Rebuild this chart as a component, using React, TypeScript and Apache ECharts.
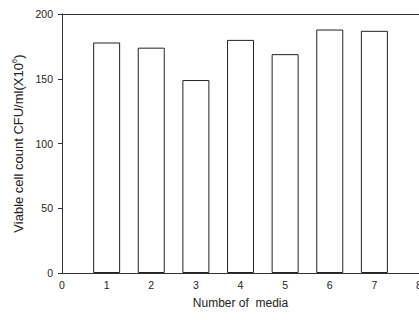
import React, { useEffect, useRef } from "react";
import * as echarts from "echarts";

const mediaNumbers = [1, 2, 3, 4, 5, 6, 7];
const viableCounts = [178, 174, 149, 180, 169, 188, 187];
const yTicks = [0, 50, 100, 150, 200];
const xTicks = [0, 1, 2, 3, 4, 5, 6, 7, 8];

export default function App() {
  const ref = useRef<HTMLDivElement>(null);
  useEffect(() => {
    if (!ref.current) return;
    const chart = echarts.init(ref.current, null, { renderer: "svg" });
    const font = "Liberation Sans, Arial, sans-serif";
    chart.setOption({
      animation: false,
      backgroundColor: "#fff",
      grid: {
        left: 62,
        right: 0,
        top: 14,
        bottom: 47,
        containLabel: false,
        outerBoundsMode: "none",
      },
      xAxis: [
        {
          type: "value",
          min: xTicks[0],
          max: xTicks[xTicks.length - 1],
          interval: 1,
          position: "bottom",
          name: "Number of  media",
          nameLocation: "middle",
          nameGap: 24,
          nameTextStyle: { fontFamily: font, fontSize: 12, color: "#222" },
          axisLine: { lineStyle: { color: "#333", width: 1 } },
          axisTick: { show: false },
          axisLabel: { fontFamily: font, fontSize: 10.5, color: "#222", margin: 6 },
          splitLine: { show: false },
        },
        {
          type: "value",
          min: xTicks[0],
          max: xTicks[xTicks.length - 1],
          position: "top",
          axisLine: { show: true, lineStyle: { color: "#333", width: 1 } },
          axisTick: { show: false },
          axisLabel: { show: false },
          splitLine: { show: false },
        },
      ],
      yAxis: {
        type: "value",
        min: yTicks[0],
        max: yTicks[yTicks.length - 1],
        interval: 50,
        name: "Viable cell count CFU/ml(X10{sup|6})",
        nameLocation: "middle",
        nameGap: 28,
        nameTextStyle: {
          fontFamily: font,
          fontSize: 13,
          color: "#222",
          rich: {
            sup: { fontSize: 8, verticalAlign: "top", padding: [0, 0, 7, 0], fontFamily: font, color: "#222" },
          },
        },
        axisLine: { show: true, lineStyle: { color: "#333", width: 1 } },
        axisTick: { show: true, length: 4, lineStyle: { color: "#333" } },
        axisLabel: { fontFamily: font, fontSize: 10.5, color: "#222", margin: 9 },
        splitLine: { show: false },
      },
      series: [
        {
          type: "bar",
          xAxisIndex: 0,
          barWidth: 27,
          data: mediaNumbers.map((m, i) => [m, viableCounts[i]]),
          itemStyle: { color: "#fff", borderColor: "#222", borderWidth: 1 },
        },
      ],
    });
    return () => chart.dispose();
  }, []);
  return (
    <div
      ref={ref}
      style={{ position: "absolute", left: 0, top: 0, width: 419, height: 320 }}
    />
  );
}
